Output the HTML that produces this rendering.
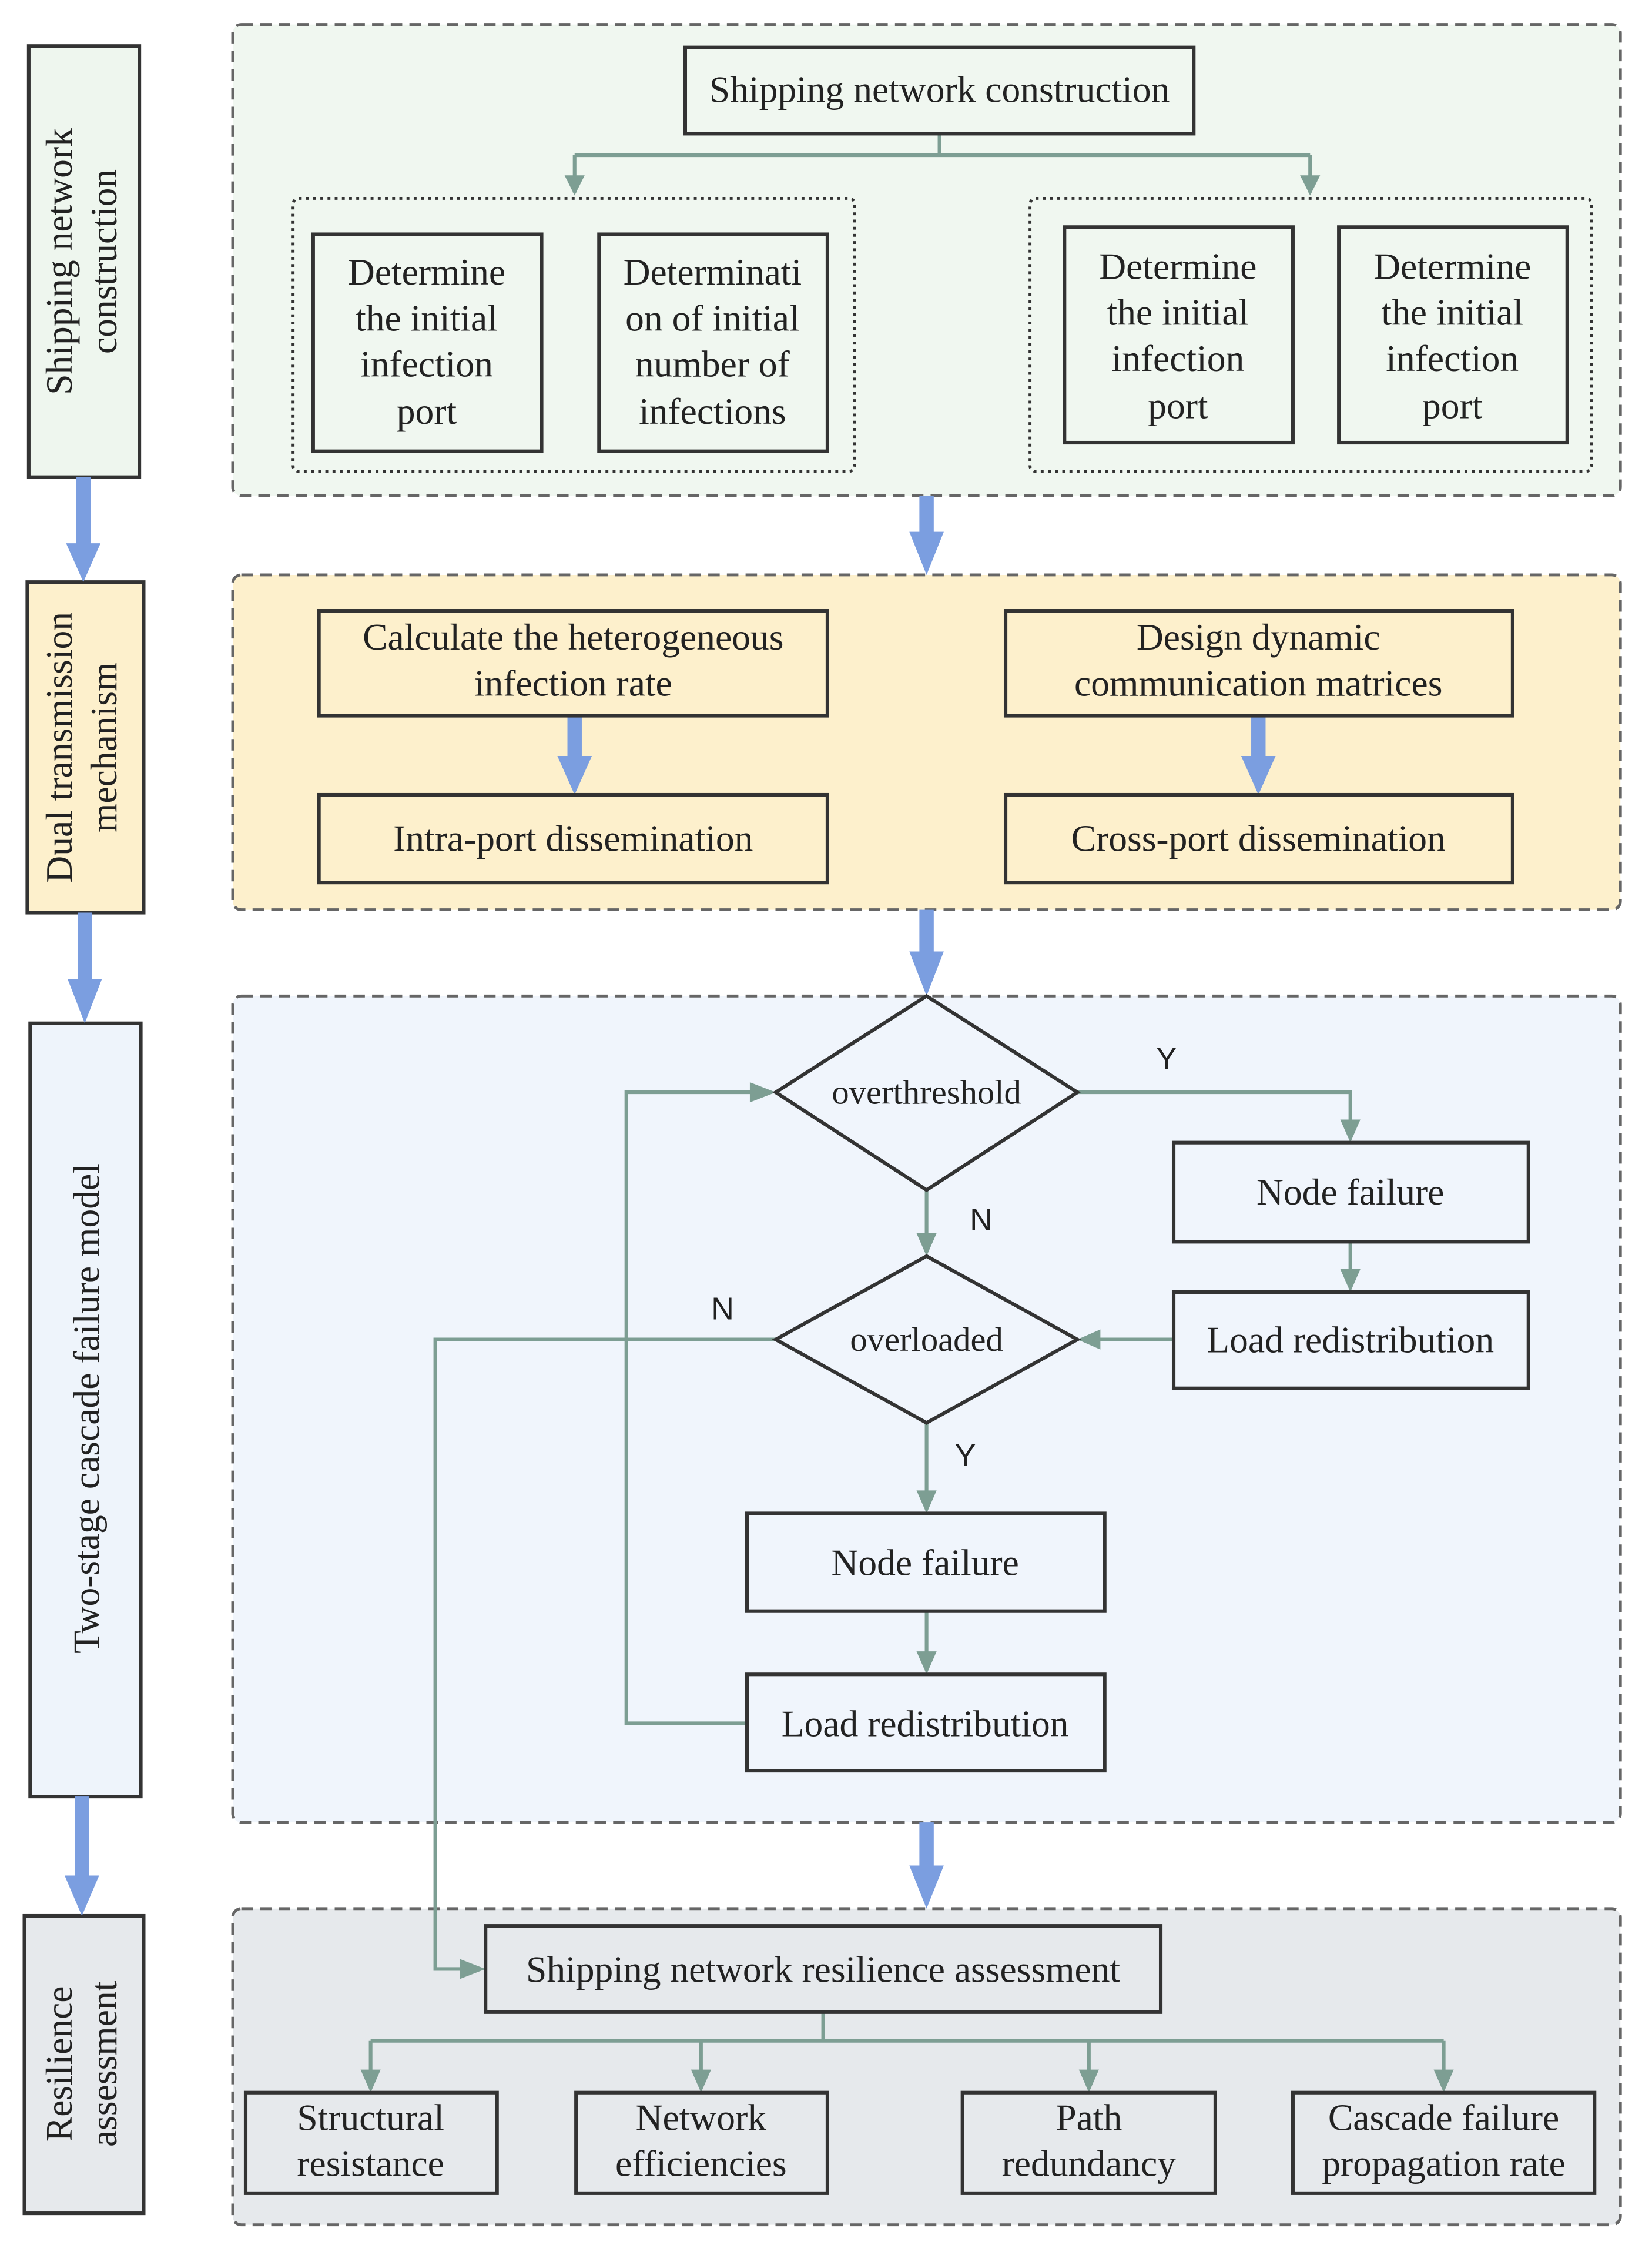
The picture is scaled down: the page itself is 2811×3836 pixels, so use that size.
<!DOCTYPE html>
<html><head><meta charset="utf-8"><style>html,body{margin:0;padding:0;background:#fff}svg{display:block}</style></head><body>
<svg width="2811" height="3836" viewBox="0 0 1150 1569" preserveAspectRatio="none" xmlns="http://www.w3.org/2000/svg" font-family="Liberation Serif, serif" font-size="22" fill="#222">
<g stroke="#666" stroke-width="2" stroke-dasharray="8,5">
<rect x="162" y="17" width="966" height="328" rx="6" fill="#f0f7f0"/>
<rect x="162" y="400" width="966" height="233" rx="6" fill="#fdf0cc"/>
<rect x="162" y="693" width="966" height="575" rx="6" fill="#f0f5fc"/>
<rect x="162" y="1328" width="966" height="220" rx="6" fill="#e6e9ec"/>
</g>
<g stroke="#333" stroke-width="2.5">
<rect x="20" y="32" width="77" height="300" fill="#eef6ee"/>
<rect x="19" y="405" width="81" height="230" fill="#fdf0cc"/>
<rect x="21" y="712" width="77" height="538" fill="#eef4fb"/>
<rect x="17" y="1333" width="83" height="207" fill="#e6e9ec"/>
</g>
<g text-anchor="middle" font-size="26">
<text transform="translate(50,182) rotate(-90)">Shipping network</text>
<text transform="translate(81,182) rotate(-90)">construction</text>
<text transform="translate(50,520) rotate(-90)">Dual transmission</text>
<text transform="translate(81,520) rotate(-90)">mechanism</text>
<text transform="translate(69,980) rotate(-90)">Two-stage cascade failure model</text>
<text transform="translate(50,1436) rotate(-90)">Resilience</text>
<text transform="translate(81,1436) rotate(-90)">assessment</text>
</g>
<g fill="#7b9ee0">
<rect x="53" y="332" width="10" height="50"/><path d="M46,378 L70,378 L58,405 z"/>
<rect x="54" y="635" width="10" height="50"/><path d="M47,681 L71,681 L59,712 z"/>
<rect x="52" y="1250" width="10" height="60"/><path d="M45,1305 L69,1305 L57,1333 z"/>
<rect x="640" y="345" width="10" height="30"/><path d="M633,370 L657,370 L645,400 z"/>
<rect x="640" y="633" width="10" height="33"/><path d="M633,662 L657,662 L645,693 z"/>
<rect x="640" y="1268" width="10" height="33"/><path d="M633,1298 L657,1298 L645,1328 z"/>
<rect x="395" y="498" width="10" height="32"/><path d="M388,526 L412,526 L400,553 z"/>
<rect x="871" y="498" width="10" height="32"/><path d="M864,526 L888,526 L876,553 z"/>
</g>
<g fill="none" stroke="#333" stroke-width="2" stroke-dasharray="2,3">
<rect x="204" y="138" width="391" height="190" rx="4"/>
<rect x="717" y="138" width="391" height="190" rx="4"/>
</g>
<g fill="none" stroke="#7d9e93" stroke-width="2.5">
<path d="M654,93 V108 M400,108 H912 M400,108 V134 M912,108 V134"/>
<path d="M750,760 H940 V791 M940,864 V895 M817,932 H754 M645,828 V870 M645,990 V1049 M645,1121 V1161 M520,1199 H436 V760 H536 M540,932 H303 V1370 H334"/>
<path d="M573,1400 V1420 M258,1420 H1005 M258,1420 V1452 M488,1420 V1452 M758,1420 V1452 M1005,1420 V1452"/>
</g>
<g fill="#7d9e93">
<path d="M393,122 L407,122 L400,136 z"/><path d="M905,122 L919,122 L912,136 z"/>
<path d="M933,779 L947,779 L940,795 z"/><path d="M933,883 L947,883 L940,899 z"/>
<path d="M766,925 L766,939 L750,932 z"/><path d="M638,858 L652,858 L645,874 z"/>
<path d="M638,1037 L652,1037 L645,1053 z"/><path d="M638,1149 L652,1149 L645,1165 z"/>
<path d="M522,753 L522,767 L540,760 z"/><path d="M320,1363 L320,1377 L338,1370 z"/>
<path d="M251,1440 L265,1440 L258,1456 z"/><path d="M481,1440 L495,1440 L488,1456 z"/><path d="M751,1440 L765,1440 L758,1456 z"/><path d="M998,1440 L1012,1440 L1005,1456 z"/>
</g>
<g stroke="#333" stroke-width="2.5">
<rect x="477" y="33" width="354" height="60" fill="#f0f7f0"/>
<rect x="218" y="163" width="159" height="151" fill="#f0f7f0"/>
<rect x="417" y="163" width="159" height="151" fill="#f0f7f0"/>
<rect x="741" y="158" width="159" height="150" fill="#f0f7f0"/>
<rect x="932" y="158" width="159" height="150" fill="#f0f7f0"/>
<rect x="222" y="425" width="354" height="73" fill="#fdf0cc"/>
<rect x="700" y="425" width="353" height="73" fill="#fdf0cc"/>
<rect x="222" y="553" width="354" height="61" fill="#fdf0cc"/>
<rect x="700" y="553" width="353" height="61" fill="#fdf0cc"/>
<path d="M645,693 L750,760 L645,828 L540,760 z" fill="#f0f5fc"/>
<path d="M645,874 L750,932 L645,990 L540,932 z" fill="#f0f5fc"/>
<rect x="817" y="795" width="247" height="69" fill="#f0f5fc"/>
<rect x="817" y="899" width="247" height="67" fill="#f0f5fc"/>
<rect x="520" y="1053" width="249" height="68" fill="#f0f5fc"/>
<rect x="520" y="1165" width="249" height="67" fill="#f0f5fc"/>
<rect x="338" y="1340" width="470" height="60" fill="#e6e9ec"/>
<rect x="171" y="1456" width="175" height="70" fill="#e6e9ec"/>
<rect x="401" y="1456" width="175" height="70" fill="#e6e9ec"/>
<rect x="670" y="1456" width="176" height="70" fill="#e6e9ec"/>
<rect x="900" y="1456" width="210" height="70" fill="#e6e9ec"/>
</g>
<g text-anchor="middle" font-size="26">
<text x="654" y="71">Shipping network construction</text>
<text x="297" y="198">Determine</text><text x="297" y="230">the initial</text><text x="297" y="262">infection</text><text x="297" y="295">port</text>
<text x="496" y="198">Determinati</text><text x="496" y="230">on of initial</text><text x="496" y="262">number of</text><text x="496" y="295">infections</text>
<text x="820" y="194">Determine</text><text x="820" y="226">the initial</text><text x="820" y="258">infection</text><text x="820" y="291">port</text>
<text x="1011" y="194">Determine</text><text x="1011" y="226">the initial</text><text x="1011" y="258">infection</text><text x="1011" y="291">port</text>
<text x="399" y="452">Calculate the heterogeneous</text><text x="399" y="484">infection rate</text>
<text x="876" y="452">Design dynamic</text><text x="876" y="484">communication matrices</text>
<text x="399" y="592">Intra-port dissemination</text>
<text x="876" y="592">Cross-port dissemination</text>
<text x="645" y="768" font-size="24">overthreshold</text>
<text x="645" y="940" font-size="24">overloaded</text>
<text x="940" y="838">Node failure</text>
<text x="940" y="941">Load redistribution</text>
<text x="644" y="1096">Node failure</text>
<text x="644" y="1208">Load redistribution</text>
<text x="573" y="1379">Shipping network resilience assessment</text>
<text x="258" y="1482">Structural</text><text x="258" y="1514">resistance</text>
<text x="488" y="1482">Network</text><text x="488" y="1514">efficiencies</text>
<text x="758" y="1482">Path</text><text x="758" y="1514">redundancy</text>
<text x="1005" y="1482">Cascade failure</text><text x="1005" y="1514">propagation rate</text>
</g>
<g font-family="Liberation Sans, sans-serif" font-size="22" text-anchor="middle">
<text x="812" y="744">Y</text><text x="683" y="856">N</text><text x="672" y="1020">Y</text><text x="503" y="918">N</text>
</g>
</svg>
</body></html>
